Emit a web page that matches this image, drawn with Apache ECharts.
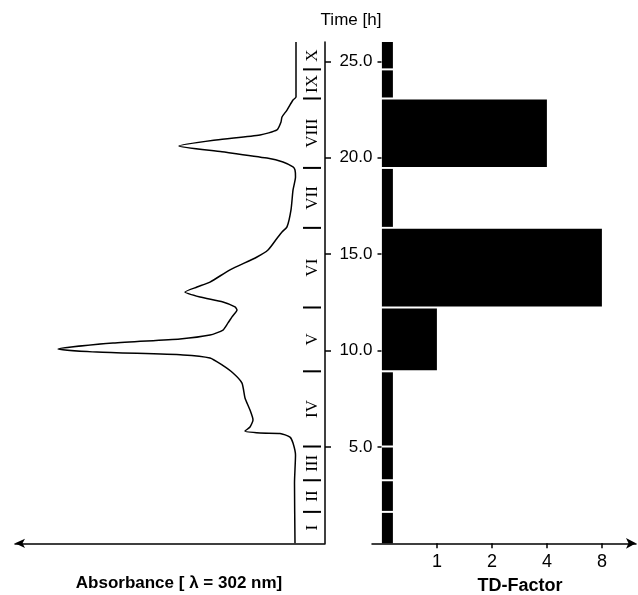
<!DOCTYPE html>
<html>
<head>
<meta charset="utf-8">
<script src="https://cdn.jsdelivr.net/npm/echarts@6/dist/echarts.min.js"></script>
<style>
  html, body { margin: 0; padding: 0; background: #fff; }
  #chart { width: 638px; height: 595px; }
</style>
</head>
<body>
<div id="chart"></div>
<script>
// ---- Data ----
// Absorbance trace (arbitrary units, 0 = baseline) versus time [h]
const traceTime = [0, 3.13, 4.58, 5.20, 5.51, 5.70, 5.72, 5.82, 6.03, 6.40, 6.91, 7.54, 8.31, 8.83, 9.25, 9.61, 9.77, 9.92, 10.08, 10.39, 10.60, 10.80, 11.06, 11.43, 11.74, 12.10, 12.26, 12.52, 12.77, 13.03, 13.29, 13.55, 14.18, 14.85, 15.21, 15.89, 16.15, 16.41, 17.29, 18.32, 19.00, 19.36, 19.52, 19.78, 19.98, 20.31, 20.61, 20.92, 21.18, 21.44, 21.85, 22.11, 22.47, 22.99, 23.15, 26.0];
const traceAbs  = [0.01, 0.015, 0.005, 0.03, 0.06, 0.16, 0.36, 0.51, 0.46, 0.43, 0.46, 0.51, 0.54, 0.63, 0.74, 0.86, 1.13, 1.99, 2.38, 1.83, 1.16, 0.86, 0.73, 0.68, 0.64, 0.59, 0.61, 0.73, 0.96, 1.11, 0.99, 0.86, 0.66, 0.39, 0.28, 0.18, 0.14, 0.09, 0.05, 0.03, 0.005, 0.01, 0.03, 0.13, 0.29, 0.74, 1.17, 0.80, 0.36, 0.19, 0.15, 0.14, 0.09, 0.03, 0.0, 0.0];

// Fractions
const fractionNames  = ['I', 'II', 'III', 'IV', 'V', 'VI', 'VII', 'VIII', 'IX', 'X'];
const fractionBounds = [0, 1.63, 3.27, 5.02, 8.92, 12.23, 16.36, 19.47, 23.07, 24.58, 26.0];
const tdFactors      = [null, null, null, null, 1, 8, null, 4, null, null];

// Tick labels
const tdTickLabels = [1, 2, 4, 8];
const timeTickLabels = [5, 10, 15, 20, 25];

// ---- Helpers ----
const NONE_LEVEL = 0.2;               // drawn width for fractions without TD factor
const level = f => (f == null ? NONE_LEVEL : Math.log2(f) + 1);
const FONT = '"Liberation Sans", Arial, Helvetica, sans-serif';

const traceData = traceTime.map((t, i) => [traceAbs[i], t]);
const barData = fractionNames.map((n, i) => [fractionBounds[i], fractionBounds[i + 1], level(tdFactors[i])]);
const stripData = fractionNames.map((n, i) => [fractionBounds[i], fractionBounds[i + 1], i]);

const chart = echarts.init(document.getElementById('chart'), null, { renderer: 'canvas' });

const option = {
  animation: false,
  backgroundColor: '#fff',
  grid: [
    { left: 15, top: 42, width: 310, height: 501.3 },
    { left: 372, top: 42, width: 264, height: 501.3 }
  ],
  xAxis: [
    {
      gridIndex: 0, type: 'value', inverse: true, min: -0.29, max: 2.81,
      axisLine: { show: true, onZero: false, symbol: ['arrow', 'none'], symbolSize: [7, 10], lineStyle: { color: '#000', width: 1.5 } },
      axisTick: { show: false }, axisLabel: { show: false }, splitLine: { show: false }
    },
    {
      gridIndex: 1, type: 'value', min: -0.18, max: 4.62,
      axisLine: { show: true, onZero: false, symbol: ['none', 'arrow'], symbolSize: [8, 10], lineStyle: { color: '#000', width: 1.5 } },
      axisTick: { show: true, length: 5, customValues: tdTickLabels.map(v => Math.log2(v) + 1), lineStyle: { color: '#000', width: 1.5 } },
      axisLabel: {
        show: true, customValues: tdTickLabels.map(v => Math.log2(v) + 1),
        formatter: v => String(Math.round(Math.pow(2, v - 1))),
        fontSize: 18, fontFamily: FONT, color: '#000', margin: 10
      },
      splitLine: { show: false }
    }
  ],
  yAxis: [
    {
      gridIndex: 0, type: 'value', min: 0, max: 26, position: 'right',
      axisLine: { show: true, onZero: false, lineStyle: { color: '#000', width: 1.5 } },
      axisTick: { show: true, length: 6, customValues: timeTickLabels, lineStyle: { color: '#000', width: 1.5 } },
      axisLabel: { show: false }, splitLine: { show: false }
    },
    {
      gridIndex: 1, type: 'value', min: 0, max: 26, position: 'left', offset: -9.5,
      axisLine: { show: false, onZero: false },
      axisTick: { show: true, length: 4, customValues: timeTickLabels, lineStyle: { color: '#000', width: 1.5 } },
      axisLabel: {
        show: true, customValues: timeTickLabels, formatter: v => v.toFixed(1),
        fontSize: 17, fontFamily: FONT, color: '#000', margin: 9
      },
      splitLine: { show: false }
    }
  ],
  series: [
    {
      type: 'line', xAxisIndex: 0, yAxisIndex: 0, data: traceData,
      showSymbol: false, symbol: 'none', smooth: 0.2,
      lineStyle: { color: '#000', width: 1.5 }
    },
    {
      type: 'custom', xAxisIndex: 0, yAxisIndex: 0, data: stripData,
      encode: { x: 2, y: [0, 1] },
      renderItem: function (params, api) {
        const t0 = api.value(0), t1 = api.value(1), idx = api.value(2);
        const c = api.coord([-0.17, (t0 + t1) / 2]);
        const children = [{
          type: 'text', x: c[0], y: c[1], rotation: Math.PI / 2,
          style: { text: fractionNames[idx], font: '17px "Liberation Serif", "Times New Roman", serif', align: 'center', verticalAlign: 'middle', fill: '#000' }
        }];
        if (t0 > 0) {
          const a = api.coord([-0.07, t0]), b = api.coord([-0.25, t0]);
          children.push({ type: 'line', shape: { x1: a[0], y1: a[1], x2: b[0], y2: b[1] }, style: { stroke: '#000', lineWidth: 2 } });
        }
        return { type: 'group', children: children };
      }
    },
    {
      type: 'custom', xAxisIndex: 1, yAxisIndex: 1, data: barData,
      encode: { x: 2, y: [0, 1] },
      renderItem: function (params, api) {
        const t0 = api.value(0), t1 = api.value(1), v = api.value(2);
        const pTop = api.coord([0, t1]);
        const pBot = api.coord([v, t0]);
        const gapTop = t1 < 26 ? 1 : 0;
        const gapBot = t0 > 0 ? 1 : 0;
        return {
          type: 'rect',
          shape: { x: pTop[0], y: pTop[1] + gapTop, width: pBot[0] - pTop[0], height: pBot[1] - pTop[1] - gapTop - gapBot },
          style: { fill: '#000' }
        };
      }
    }
  ],
  graphic: [
    { type: 'text', x: 351, y: 20, style: { text: 'Time [h]', font: '17px ' + FONT, fill: '#000', align: 'center', verticalAlign: 'middle' } },
    { type: 'text', x: 179, y: 583, style: { text: 'Absorbance [ \u03bb = 302 nm]', font: 'bold 17px ' + FONT, fill: '#000', align: 'center', verticalAlign: 'middle' } },
    { type: 'text', x: 520, y: 586, style: { text: 'TD-Factor', font: 'bold 18px ' + FONT, fill: '#000', align: 'center', verticalAlign: 'middle' } }
  ]
};

chart.setOption(option);
</script>
</body>
</html>
